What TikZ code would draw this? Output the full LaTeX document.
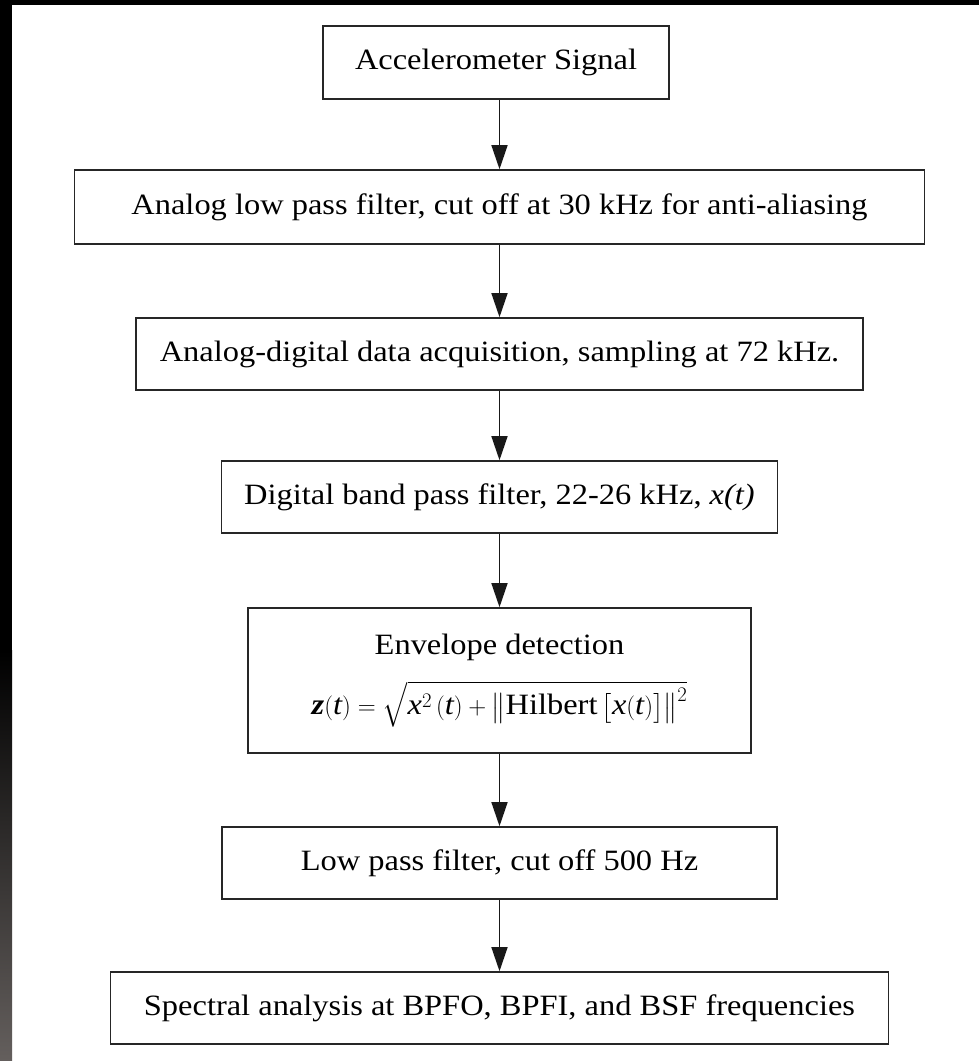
\documentclass[tikz,border=0pt]{standalone}
\usepackage{amsmath}
\usepackage{fontspec}
\setmainfont{Liberation Serif}[FakeStretch=1.1]
\usetikzlibrary{arrows.meta}
\newcommand{\vi}[1]{\textit{#1}}
\begin{document}
\begin{tikzpicture}[x=1pt,y=-1pt,
  box/.style={draw=black!85,line width=1.6pt,fill=white,inner sep=0pt,align=center,
    font=\fontsize{29.5pt}{36pt}\selectfont},
  arr/.style={draw=black!90,line width=1.5pt,-{Triangle[length=24pt,width=16pt]}}]
\useasboundingbox (0,0) rectangle (979,1061);
\fill[white] (0,0) rectangle (979,1061);
% dark frame
\fill[black] (0,0) rectangle (979,5);
\fill[black] (0,0) rectangle (12,650);
\shade[top color=black,bottom color={rgb,255:red,100;green,95;blue,93}] (0,650) rectangle (12,1061);
% boxes
\node[box,minimum width=346pt,minimum height=73pt] (b1) at (496,62.5) {Accelerometer Signal};
\node[box,minimum width=850pt,minimum height=74pt] (b2) at (499.5,207) {Analog low pass filter, cut off at 30 kHz for anti-aliasing};
\node[box,minimum width=727pt,minimum height=72pt] (b3) at (499.5,354) {Analog-digital data acquisition, sampling at 72 kHz.};
\node[box,minimum width=556pt,minimum height=72pt] (b4) at (499.5,497) {Digital band pass filter, 22-26 kHz, \textit{x(t)}};
\node[box,minimum width=503pt,minimum height=145pt] (b5) at (499.5,680.5) {Envelope detection\\[20pt]
  $\textbf{\textit{z}}(\vi{t})=\sqrt{\vi{x}^{2}\,(\vi{t})+\bigl\|\text{Hilbert}\,\bigl[\vi{x}(\vi{t})\bigr]\bigr\|^{2}}$};
\node[box,minimum width=555pt,minimum height=72pt] (b6) at (499.5,863) {Low pass filter, cut off 500 Hz};
\node[box,minimum width=778pt,minimum height=72pt] (b7) at (499.5,1008) {Spectral analysis at BPFO, BPFI, and BSF frequencies};
% arrows
\draw[arr] (b1.south -| b2.north) -- (b2.north);
\draw[arr] (b2.south) -- (b3.north);
\draw[arr] (b3.south) -- (b4.north);
\draw[arr] (b4.south) -- (b5.north);
\draw[arr] (b5.south) -- (b6.north);
\draw[arr] (b6.south) -- (b7.north);
\end{tikzpicture}
\end{document}
